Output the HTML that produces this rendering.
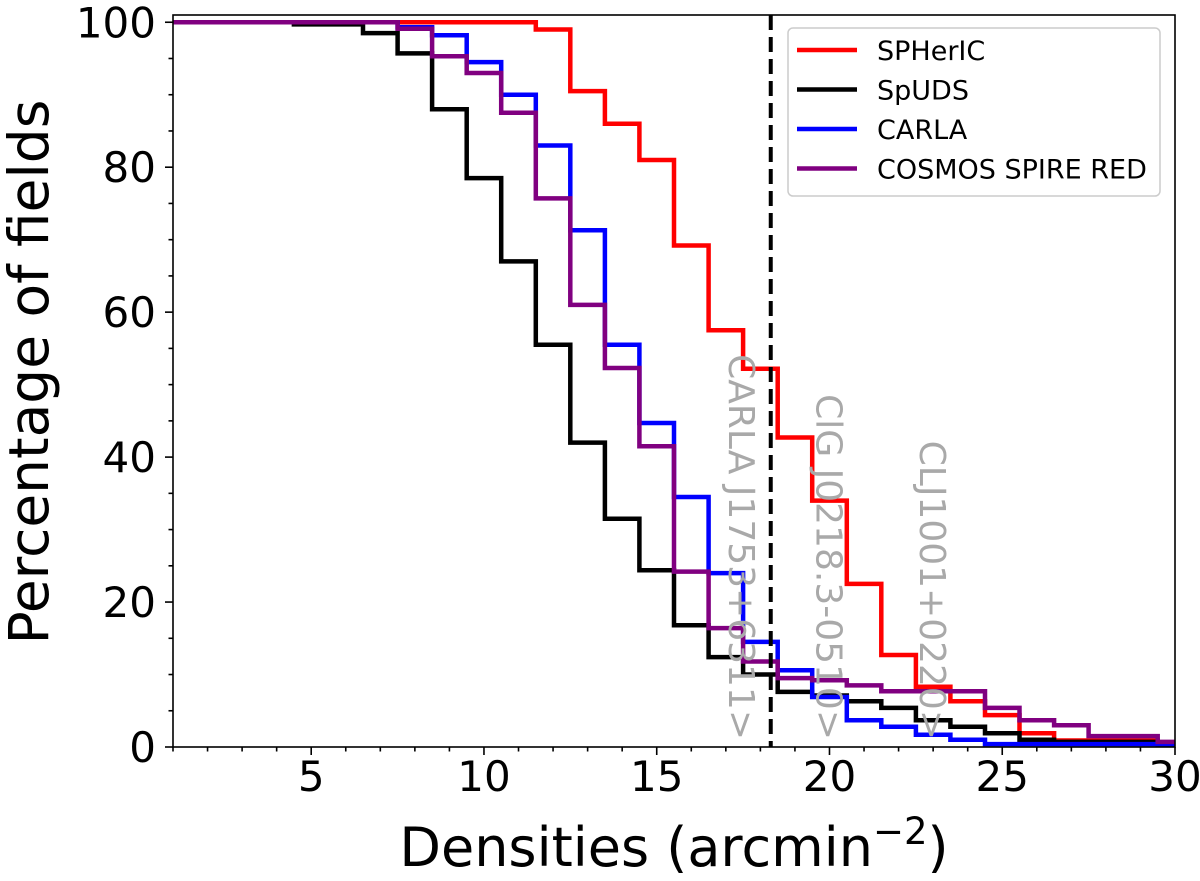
<!DOCTYPE html>
<html><head><meta charset="utf-8"><style>
html,body{margin:0;padding:0;background:#fff;}
svg text{font-family:"DejaVu Sans","Liberation Sans",sans-serif;}
</style></head><body>
<svg id="chart" width="1200" height="876" viewBox="0 0 1200 876" xmlns="http://www.w3.org/2000/svg">
<g id="series"></g>
<g id="annots"></g>
<g id="axes"></g>
<g id="legend"></g>
</svg>
<script>
const binCenters = [1,2,3,4,5,6,7,8,9,10,11,12,13,14,15,16,17,18,19,20,21,22,23,24,25,26,27,28,29,30];
const spherIC = [100,100,100,100,100,100,100,100,100,100,100,99,90.5,86,81,69.2,57.5,52.2,42.7,34,22.5,12.7,8.3,6.3,4.4,1.9,0.9,0.9,0.9,0.5];
const spUDS = [100,100,100,100,99.7,99.7,98.5,95.7,88,78.5,67,55.5,42,31.5,24.4,16.8,12.4,10,7.6,7.1,6.3,5.4,3.7,2.8,1.9,1.0,0.7,0.7,0.7,0.4];
const carla = [100,100,100,100,100,100,100,99.3,98.2,94.5,90,83,71.3,55.5,44.7,34.5,24,14.5,10.6,6.9,3.7,2.8,1.7,1.0,0.4,0.4,0.4,0.4,0.4,0.4];
const cosmos = [100,100,100,100,100,100,100,99.1,95.3,93,87.5,75.7,61,52.3,41.5,24.2,16.4,11.8,9.5,9.2,8.5,7.7,7.7,7.7,5.4,3.7,3.0,1.5,1.5,0.7];
const seriesNames = ["SPHerIC","SpUDS","CARLA","COSMOS SPIRE RED"];
const seriesColors = ["#ff0000","#000000","#0000ff","#800080"];
const xTicks = [5,10,15,20,25,30];
const yTicks = [0,20,40,60,80,100];
const refLine = [18.3];
const annotX = [17.47,20.0,23.0];
const annotText = ["CARLA J1753+6311>","ClG J0218.3-0510>","CLJ1001+0220>"];

const L=173,R=1175,T=15,B=747, X0=1,X1=30, Y0=0,Y1=101;
const xs=v=>L+(v-X0)*(R-L)/(X1-X0);
const ys=v=>B-(v-Y0)*(B-T)/(Y1-Y0);
const NS='http://www.w3.org/2000/svg';
function mk(tag,attrs,parent){const e=document.createElementNS(NS,tag);for(const k in attrs)e.setAttribute(k,attrs[k]);parent.appendChild(e);return e;}

const sg=document.getElementById('series');
[spherIC,spUDS,carla,cosmos].forEach((vals,si)=>{
  let d='';
  binCenters.forEach((c,i)=>{
    const a=Math.max(X0,c-0.5), b=Math.min(X1,c+0.5);
    d+=(i===0?'M':'L')+xs(a).toFixed(1)+' '+ys(vals[i]).toFixed(1)+' L'+xs(b).toFixed(1)+' '+ys(vals[i]).toFixed(1)+' ';
  });
  const p=mk('path',{d:d,fill:'none',stroke:seriesColors[si],'stroke-width':4.5,'stroke-linejoin':'miter'},sg);
  
  
});

const ag=document.getElementById('annots');
refLine.forEach(v=>{
  const l=mk('line',{x1:xs(v),x2:xs(v),y1:T,y2:B,stroke:'#000','stroke-width':4,'stroke-dasharray':'15,7'},ag);
  
  
});
annotX.forEach((v,i)=>{
  const x=xs(v);
  const t=mk('text',{x:0,y:0,transform:'translate('+(x-13).toFixed(1)+',740) rotate(90)','text-anchor':'end','font-size':36,fill:'#a9a9a9'},ag);
  t.textContent=annotText[i];
  
  
});

const ax=document.getElementById('axes');
const fr=mk('rect',{x:L,y:T,width:R-L,height:B-T,fill:'none',stroke:'#000','stroke-width':1.6},ax);


for(let v=1;v<=30;v++){
  const maj=xTicks.includes(v);
  const l=mk('line',{x1:xs(v),x2:xs(v),y1:B,y2:B+(maj?8:4.5),stroke:'#000','stroke-width':1.6},ax);
  
  
}
xTicks.forEach(v=>{
  const t=mk('text',{x:xs(v),y:791,'text-anchor':'middle','font-size':42,fill:'#000'},ax);
  t.textContent=v;
  
  
});
for(let v=0;v<=100;v+=5){
  const maj=yTicks.includes(v);
  const l=mk('line',{x1:L,x2:L-(maj?8:4.5),y1:ys(v),y2:ys(v),stroke:'#000','stroke-width':1.6},ax);
  
  
}
yTicks.forEach(v=>{
  const t=mk('text',{x:156,y:ys(v)+15,'text-anchor':'end','font-size':42,fill:'#000'},ax);
  t.textContent=v;
  
  
});
const xt=mk('text',{x:674,y:866,'text-anchor':'middle','font-size':54,fill:'#000'},ax);
xt.innerHTML='Densities (arcmin<tspan dy="-22" font-size="37">−2</tspan><tspan dy="22">)</tspan>';


const yt=mk('text',{x:0,y:0,transform:'translate(48,372) rotate(-90)','text-anchor':'middle','font-size':55,fill:'#000'},ax);
yt.textContent='Percentage of fields';



const lg=document.getElementById('legend');
const box=mk('rect',{x:788,y:28,width:372,height:168,rx:5,fill:'#fff','fill-opacity':0.8,stroke:'#cccccc','stroke-width':1.5},lg);


seriesNames.forEach((n,i)=>{
  const y=50+i*39.5;
  const g=mk('g',{},lg);
  
  
  mk('line',{x1:797,x2:857,y1:y,y2:y,stroke:seriesColors[i],'stroke-width':4.5},g);
  const t=mk('text',{x:877,y:y+10,'font-size':27,fill:'#000'},g);
  t.textContent=n;
});
</script>
</body></html>
